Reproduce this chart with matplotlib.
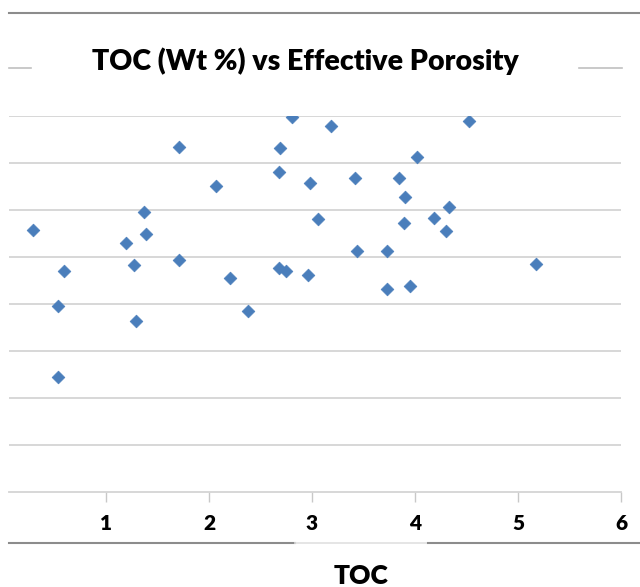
import matplotlib
matplotlib.use("Agg")
import matplotlib.pyplot as plt
from matplotlib.lines import Line2D

toc = [1.71, 0.29, 1.37, 1.39, 1.19, 1.27, 1.71, 0.59, 0.53, 1.29, 0.53,
       2.81, 3.18, 2.69, 2.07, 2.68, 2.98, 3.42, 3.84, 3.90, 3.06, 3.89,
       3.44, 3.73, 2.68, 2.75, 2.96, 2.20, 3.73, 3.95, 2.38,
       4.52, 4.02, 4.33, 4.18, 4.30, 5.17]
porosity = [14.67, 11.15, 11.93, 10.97, 10.61, 9.66, 9.89, 9.40, 7.93, 7.28, 4.89,
            15.94, 15.59, 14.64, 13.03, 13.60, 13.14, 13.36, 13.35, 12.57, 11.60, 11.43,
            10.26, 10.27, 9.53, 9.39, 9.23, 9.12, 8.64, 8.76, 7.70,
            15.77, 14.24, 12.11, 11.67, 11.09, 9.70]
x_ticks = [1, 2, 3, 4, 5, 6]
y_grid = [0, 2, 4, 6, 8, 10, 12, 14, 16]

title = "TOC (Wt %) vs Effective Porosity"
xlabel = "TOC"

W, H = 640, 587
fig = plt.figure(figsize=(W / 100, H / 100), dpi=100)
fig.patch.set_facecolor("white")

def fx(px):
    return px / W

def fy(py):
    return (H - py) / H

ax = fig.add_axes([fx(9), fy(492), fx(621) - fx(9), fy(116) - fy(492)])
ax.set_xlim(0.058, 6)
ax.set_ylim(0, 16)

for g in y_grid[1:]:
    ax.axhline(g, color="#d4d4d4", lw=1.3, zorder=0)

ax.scatter(toc, porosity, marker="D", s=42, color="#4a7ebb", edgecolors="#4a7ebb",
           linewidths=0.5, zorder=3)

for s in ["top", "right", "left"]:
    ax.spines[s].set_visible(False)
ax.spines["bottom"].set_color("#d4d4d4")
ax.spines["bottom"].set_linewidth(1.3)
ax.set_yticks([])
ax.set_xticks(x_ticks)
ax.set_xticklabels([str(t) for t in x_ticks], fontfamily="Lato", fontweight="heavy",
                   fontsize=15)
ax.tick_params(axis="x", direction="out", length=7, width=1, color="#c8c8c8", pad=9,
               labelcolor="black")

fig.text(fx(305), fy(70), title, ha="center", va="baseline", fontfamily="Lato",
         fontweight="heavy", fontsize=20.5)
fig.text(fx(361), fy(584), xlabel, ha="center", va="baseline", fontfamily="Lato",
         fontweight="heavy", fontsize=19)

# decorative frame lines
def hline(x0, x1, y, color, lw):
    fig.add_artist(Line2D([fx(x0), fx(x1)], [fy(y), fy(y)], transform=fig.transFigure,
                          color=color, lw=lw))

hline(9, 640, 13, "#8c8c8c", 1.5)
hline(9, 31, 68, "#c0c0c0", 1.2)
hline(579, 622, 68, "#c0c0c0", 1.2)
hline(9, 295, 543, "#8c8c8c", 1.5)
hline(295, 428, 543, "#e0e0e0", 1.2)
hline(428, 640, 543, "#8c8c8c", 1.5)

fig.savefig("out.png", dpi=100)
